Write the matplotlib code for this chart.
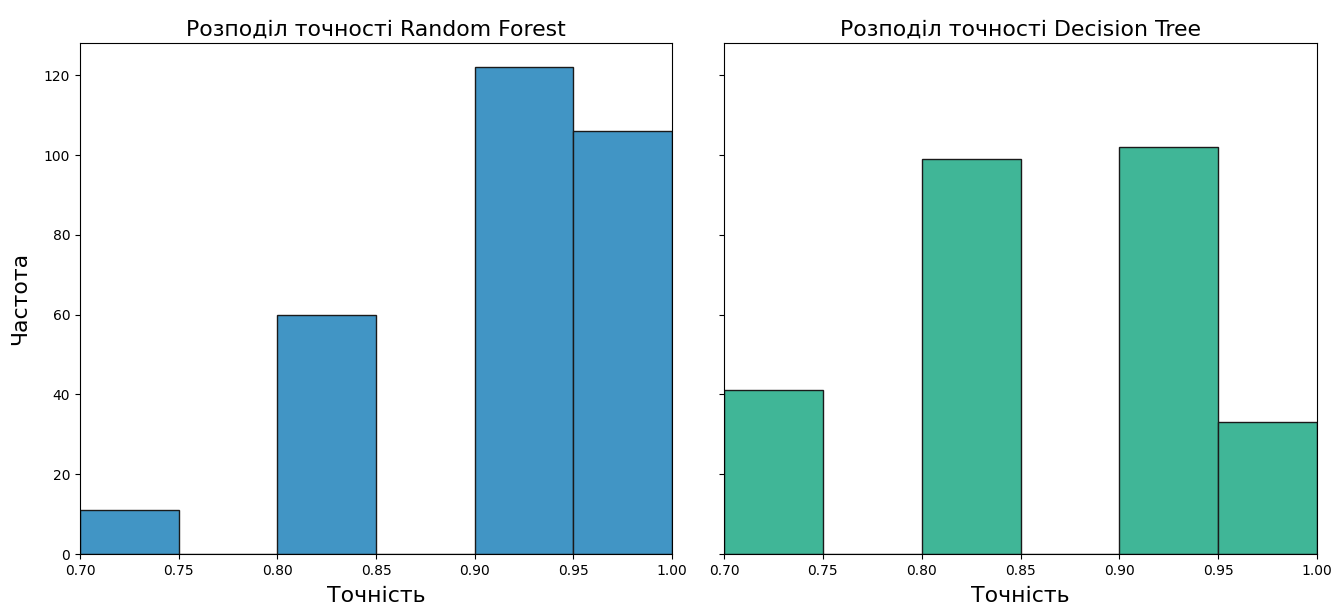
import matplotlib
matplotlib.use("Agg")
import matplotlib.pyplot as plt
import numpy as np

bin_edges = [0.70, 0.75, 0.80, 0.85, 0.90, 0.95, 1.00]
rf_counts = [11, 0, 60, 0, 122, 106]
dt_counts = [41, 0, 99, 0, 102, 33]
titles = ["Розподіл точності Random Forest", "Розподіл точності Decision Tree"]
xlabel = "Точність"
ylabel = "Частота"
xticks = [0.70, 0.75, 0.80, 0.85, 0.90, 0.95, 1.00]

fig = plt.figure(figsize=(13.36, 6.05), dpi=100)
ax1 = fig.add_axes([80/1336, 51/605, 592/1336, 511/605])
ax2 = fig.add_axes([724/1336, 51/605, 593/1336, 511/605], sharey=ax1)

colors = ["#4195c5", "#40b697"]
for ax, counts, title, col in zip([ax1, ax2], [rf_counts, dt_counts], titles, colors):
    edges = np.array(bin_edges)
    ax.bar(edges[:-1], counts, width=np.diff(edges), align="edge",
           facecolor=col, edgecolor="#1a1a1a", linewidth=1.0)
    ax.set_xlim(0.70, 1.00)
    ax.set_xticks(xticks)
    ax.set_xticklabels([f"{t:.2f}" for t in xticks])
    ax.set_title(title, fontsize=15.8, pad=5)
    ax.set_xlabel(xlabel, fontsize=15.8, labelpad=6)
    ax.tick_params(labelsize=10)

ax1.set_ylabel(ylabel, fontsize=15.8, labelpad=10)
ax1.set_yticks([0, 20, 40, 60, 80, 100, 120])
plt.setp(ax2.get_yticklabels(), visible=False)

fig.savefig("out.png", dpi=100)
